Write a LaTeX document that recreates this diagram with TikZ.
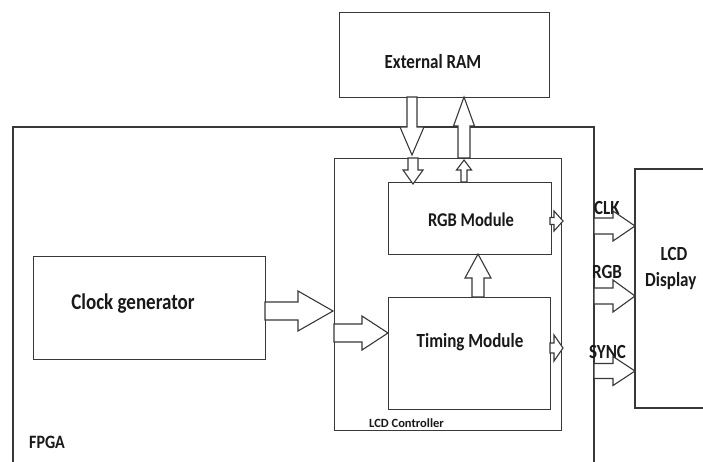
\documentclass[tikz,border=0pt]{standalone}
\usepackage{fontspec}
\setmainfont{Carlito}
\newcommand\tallt[1]{\scalebox{1}[1.18]{#1}}
\begin{document}
\begin{tikzpicture}[x=1pt,y=-1pt,
  line/.style={draw=black!78,line width=1.1pt},
  box/.style={line,rectangle,inner sep=0pt,anchor=north west},
  lbl/.style={text=black!90,inner sep=0pt},
  barrow/.style={line,fill=white,line join=miter}]
\newcommand\blkR[6]{\draw[barrow] (#1,{#4-#5}) -- (#2,{#4-#5}) -- (#2,{#4-#6}) -- (#3,#4) -- (#2,{#4+#6}) -- (#2,{#4+#5}) -- (#1,{#4+#5}) -- cycle;}
\newcommand\blkV[6]{\draw[barrow] ({#4-#5},#1) -- ({#4-#5},#2) -- ({#4-#6},#2) -- (#4,#3) -- ({#4+#6},#2) -- ({#4+#5},#2) -- ({#4+#5},#1) -- cycle;}
\useasboundingbox[fill=white] (0,0) rectangle (703,462);
% FPGA outline
\draw[line] (13,463) coordinate (fbl) -- (13,127) coordinate (ftl) -- (594,127) coordinate (ftr) -- (594,463) coordinate (fbr);
% LCD display outline
\draw[line] (710,169) -- (635,169) coordinate (dtl) -- (635,408) coordinate (dbl) -- (710,408);
% boxes
\node[box,minimum width=210pt,minimum height=85pt] (ram) at (339,12) {};
\node[box,minimum width=227pt,minimum height=272pt] (ctrl) at (334,158) {};
\node[box,minimum width=163pt,minimum height=72pt] (rgb) at (388,182) {};
\node[box,minimum width=162pt,minimum height=112pt] (tim) at (388,297) {};
\node[box,minimum width=232pt,minimum height=103pt] (clk) at (33,256) {};
% labels
\node[lbl,font=\bfseries\fontsize{17}{19}\selectfont] (ramt) at (433,62) {\tallt{External RAM}};
\node[lbl,font=\bfseries\fontsize{16.5}{18}\selectfont] (rgbt) at (471,220) {\tallt{RGB Module}};
\node[lbl,font=\bfseries\fontsize{17}{19}\selectfont] (timt) at (470,342) {\tallt{Timing Module}};
\node[lbl,font=\bfseries\fontsize{19}{21}\selectfont] (clkt) at (133,304) {\tallt{Clock generator}};
\node[lbl,font=\bfseries\fontsize{12.5}{14}\selectfont,anchor=west] (ctrlt) at (369,423) {LCD Controller};
\node[lbl,font=\bfseries\fontsize{16}{18}\selectfont,anchor=west] (fpgat) at (29,442) {\tallt{FPGA}};
\node[lbl,font=\bfseries\fontsize{17}{19}\selectfont] (dispa) at (674,254) {\tallt{LCD}};
\node[lbl,font=\bfseries\fontsize{17}{19}\selectfont,anchor=west] (dispb) at (645,281) {\tallt{Display}};
\node[lbl,font=\bfseries\fontsize{17}{19}\selectfont,anchor=west] (clkl) at (594,208) {\tallt{CLK}};
\node[lbl,font=\bfseries\fontsize{17}{19}\selectfont,anchor=west] (rgbl) at (592,272) {\tallt{RGB}};
\node[lbl,font=\bfseries\fontsize{17}{19}\selectfont,anchor=west] (syncl) at (589,352) {\tallt{SYNC}};
% block arrows
\blkR{265}{298}{333}{311}{9}{20}
\blkR{334}{362}{388}{333}{9}{17}
\blkV{97}{127}{155}{412}{5}{12}
\blkV{158}{170}{184}{413}{5}{10}
\blkV{158}{126}{97}{464}{6}{10.5}
\blkV{182}{170}{160}{464}{3}{7.5}
\blkV{297}{278}{254}{478}{6}{13}
\blkR{550}{554}{563}{221}{3.5}{10}
\blkR{550}{554}{563}{348}{5}{13}
\blkR{594}{613}{635}{226}{8}{15}
\blkR{594}{613}{635}{296}{8}{16}
\blkR{594}{613}{635}{371}{7.5}{14.5}
\end{tikzpicture}
\end{document}
